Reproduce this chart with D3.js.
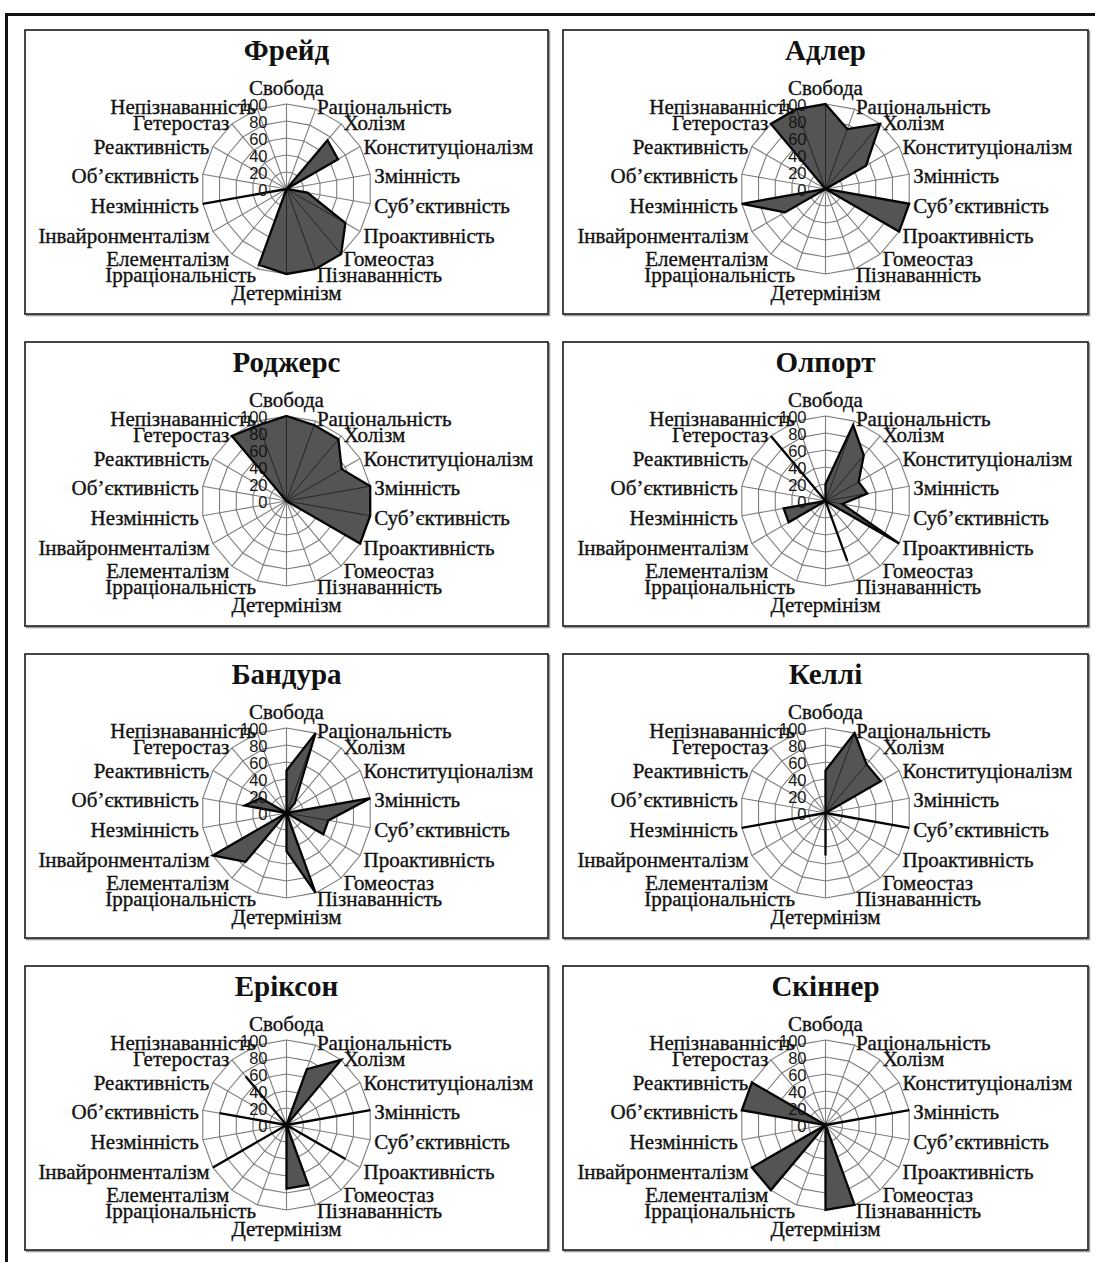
<!DOCTYPE html>
<html><head><meta charset="utf-8">
<script src="https://cdn.jsdelivr.net/npm/d3@7"></script>
<style>body{margin:0;background:#fff} svg{display:block}</style>
</head><body>
<svg id="c" width="1095" height="1262"></svg>
<script>
const categories = ["Свобода","Раціональність","Холізм","Конституціоналізм","Змінність","Суб’єктивність","Проактивність","Гомеостаз","Пізнаванність","Детермінізм","Ірраціональність","Елементалізм","Інвайронменталізм","Незмінність","Об’єктивність","Реактивність","Гетеростаз","Непізнаванність"];
const names = ["Фрейд","Адлер","Роджерс","Олпорт","Бандура","Келлі","Еріксон","Скіннер"];
const ticks = [0,20,40,60,80,100];
const freud   = [0,0,75,70,0,25,80,100,100,100,95,0,0,100,0,0,0,0];
const adler   = [100,75,100,55,0,100,100,0,0,0,0,0,55,100,0,0,100,100];
const rogers  = [100,95,95,75,100,100,100,0,0,0,0,0,0,0,0,0,100,95];
const olport  = [20,95,70,45,50,20,100,0,75,0,0,0,50,50,0,0,100,0];
const bandura = [50,100,15,0,100,50,50,0,100,45,0,75,100,0,50,35,0,0];
const kelly   = [50,100,75,75,0,100,0,0,0,50,0,0,0,100,0,0,0,0];
const erikson = [0,70,100,0,100,0,80,0,75,75,0,0,100,0,80,0,75,0];
const skinner = [0,0,0,0,100,0,0,0,100,100,0,100,100,0,100,100,0,0];
const series = [freud, adler, rogers, olport, bandura, kelly, erikson, skinner];

const svg = d3.select("#c");
svg.append("rect").attr("width",1095).attr("height",1262).attr("fill","#fff");
svg.append("line").attr("x1",5).attr("x2",1095).attr("y1",14.5).attr("y2",14.5)
  .attr("stroke","#111").attr("stroke-width",3);
svg.append("line").attr("x1",6.5).attr("x2",6.5).attr("y1",13).attr("y2",1262)
  .attr("stroke","#111").attr("stroke-width",3);

const R = 85;
const r = d3.scaleLinear().domain([0,100]).range([0,R]);
const step = 2*Math.PI/categories.length;
const radial = d3.lineRadial().angle((d,i)=>i*step).radius(d=>r(d)).curve(d3.curveLinearClosed);
const serif = "'Liberation Serif','Times New Roman',serif";
const sans = "'Liberation Sans',Arial,sans-serif";

series.forEach((vals,k)=>{
  const col = k%2, row = Math.floor(k/2);
  const bx = col ? 563 : 25, bw = col ? 525 : 523;
  const by = 30 + row*312, bh = 284;
  const cx = bx + bw/2, cy = by + 159;
  const g = svg.append("g");
  g.append("rect").attr("x",bx+1.5).attr("y",by+1.5).attr("width",bw).attr("height",bh)
    .attr("fill","none").attr("stroke","#999").attr("stroke-width",1.5);
  g.append("rect").attr("x",bx).attr("y",by).attr("width",bw).attr("height",bh)
    .attr("fill","#fff").attr("stroke","#1a1a1a").attr("stroke-width",1.6);
  g.append("text").attr("x",cx).attr("y",by+30).attr("text-anchor","middle")
    .attr("font-family",serif).attr("font-weight","bold").attr("font-size",29)
    .attr("fill","#111").text(names[k]);

  const p = g.append("g").attr("transform",`translate(${cx},${cy})`);
  ticks.slice(1).forEach(t=>{
    p.append("path").attr("d",radial(categories.map(()=>t)))
      .attr("fill","none").attr("stroke","#7d7d7d").attr("stroke-width",1.1);
  });
  const spokes = (sel,color,w)=>categories.forEach((c,i)=>{
    sel.append("line").attr("x1",0).attr("y1",0)
      .attr("x2",r(100)*Math.sin(i*step)).attr("y2",-r(100)*Math.cos(i*step))
      .attr("stroke",color).attr("stroke-width",w);
  });
  spokes(p,"#7d7d7d",1.1);
  const shape = radial(vals);
  p.append("path").attr("d",shape).attr("fill","#545454");
  p.append("clipPath").attr("id","cl"+k).append("path").attr("d",shape);
  const inner = p.append("g").attr("clip-path",`url(#cl${k})`);
  spokes(inner,"#262626",1);
  p.append("path").attr("d",shape).attr("fill","none").attr("stroke","#050505")
    .attr("stroke-width",2.3).attr("stroke-linejoin","miter");

  categories.forEach((c,i)=>{
    const a = i*step, s = Math.sin(a), co = Math.cos(a);
    let x, y, anchor;
    if (Math.abs(s) < 1e-6) {
      x = 0; anchor = "middle"; y = co > 0 ? -101 : 104;
    } else {
      x = 89*s; y = -89*co + 2; anchor = s > 0 ? "start" : "end";
    }
    p.append("text").attr("x",x).attr("y",y).attr("text-anchor",anchor)
      .attr("dominant-baseline","central").attr("font-family",serif)
      .attr("font-size",21).attr("fill","#111").attr("stroke","#111").attr("stroke-width",0.35)
      .text(c);
  });
  ticks.forEach(t=>{
    p.append("text").attr("x",-19).attr("y",-r(t)+1).attr("text-anchor","end")
      .attr("dominant-baseline","central").attr("font-family",sans)
      .attr("font-size",16.5).attr("fill","#151515").text(t);
  });
});
</script>
</body></html>
